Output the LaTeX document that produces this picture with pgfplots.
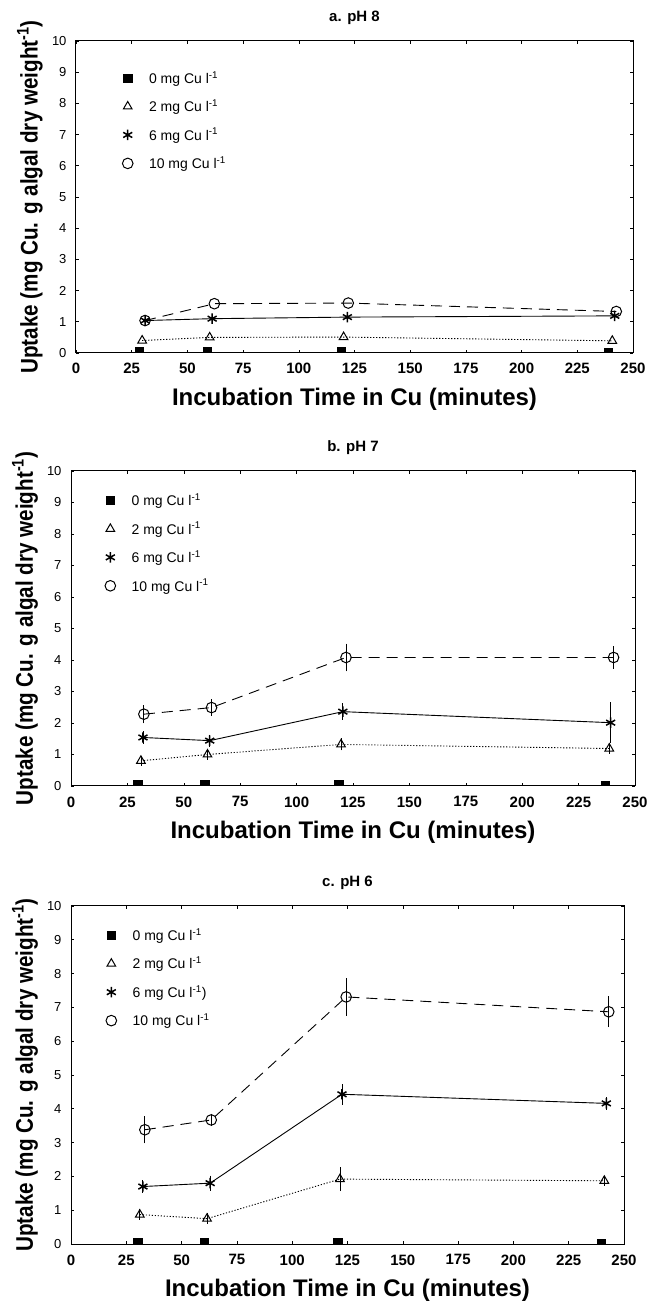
\documentclass[border=0pt]{standalone}
\usepackage{fontspec}
\setmainfont{Liberation Sans}
\usepackage{graphicx}
\usepackage{pgfplots}
\pgfplotsset{compat=1.18}

\pgfplotsset{
  cupanel/.style={
    scale only axis,
    xmin=0, xmax=250, ymin=0, ymax=10,
    xtick={0,25,...,250}, ytick={0,1,...,10},
    /pgf/number format/assume math mode=true,
    xticklabel style={font=\fontsize{15}{15}\selectfont\bfseries, yshift=-7pt},
    yticklabel style={font=\fontsize{13}{13}\selectfont, xshift=-6pt},
    tick align=inside, major tick length=3pt,
    axis line style={line width=1pt},
    every tick/.style={black, line width=0.6pt},
    xlabel={\fontsize{24}{24}\selectfont\bfseries Incubation Time in Cu (minutes)},
    xlabel style={at={(axis description cs:0.5,0)}, anchor=center, yshift=-46pt},
    ylabel={\scalebox{0.86}[1]{\fontsize{24}{24}\selectfont\bfseries Uptake (mg Cu. g algal dry weight\textsuperscript{-1})}},
    ylabel style={at={([xshift=-46pt]axis description cs:0,0.5)}, anchor=center},
    title style={at={(axis description cs:0.5,1)}, anchor=center, yshift=17pt,
                 font=\fontsize{15}{15}\selectfont\bfseries},
    clip marker paths=true,
    legend style={draw=none, fill=none, font=\fontsize{14}{16}\selectfont,
                  row sep=11pt, column sep=14pt, inner sep=0pt, anchor=north west},
    legend cell align=left,
    legend image code/.code={\draw[#1] plot coordinates {(0pt,0pt)};},
  },
  c0/.style={only marks, mark=square*, mark size=4.2pt, black},
  c2/.style={black, line width=0.9pt, dash pattern=on 1.2pt off 1.8pt,
             mark=triangle, mark size=5pt, mark options={solid, fill=white, line width=1pt}},
  c6/.style={black, line width=0.9pt, solid,
             mark=asterisk, mark size=5.2pt, mark options={solid, line width=1.5pt}},
  c10/.style={black, line width=0.9pt, dash pattern=on 11pt off 7pt,
              mark=o, mark size=5.3pt, mark options={solid, fill=white, line width=1pt}},
  errs/.style={error bars/.cd, y dir=both, y explicit,
               error bar style={solid, line width=0.8pt},
               error mark options={solid, line width=0.8pt, mark size=3.5pt}},
}

\newcommand{\culegend}[1]{%
  \addlegendimage{c0}\addlegendentry{0 mg Cu l\textsuperscript{-1}}
  \addlegendimage{c2, only marks}\addlegendentry{2 mg Cu l\textsuperscript{-1}}
  \addlegendimage{c6, only marks}\addlegendentry{#1}
  \addlegendimage{c10, only marks}\addlegendentry{10 mg Cu l\textsuperscript{-1}}
}

\begin{document}
\begin{tikzpicture}
\path[use as bounding box] (0,0) rectangle (650pt,1307pt);

% ---------------- a. pH 8 ----------------
\begin{axis}[cupanel, at={(76pt,954pt)}, anchor=south west,
  width=557pt, height=312pt, title={a. pH 8},
  legend style={at={(axis description cs:0.083,0.91)}}]
\culegend{6 mg Cu l\textsuperscript{-1}}
\addplot[c0, forget plot] coordinates {(28.4,0.05) (58.9,0.05) (119.0,0.05) (239.0,0.03)};
\addplot[c2, forget plot] coordinates {(29.7,0.40) (60.0,0.50) (120.1,0.51) (240.7,0.39)};
\addplot[c6, forget plot] coordinates {(31.0,1.04) (61.1,1.10) (121.8,1.15) (241.8,1.19)};
\addplot[c10, forget plot] coordinates {(31.0,1.04) (62.1,1.58) (122.2,1.60) (242.5,1.33)};
\end{axis}

% ---------------- b. pH 7 ----------------
\begin{axis}[cupanel, at={(71pt,521pt)}, anchor=south west,
  width=564pt, height=315pt, title={b. pH 7},
  legend style={at={(axis description cs:0.06,0.935)}}]
\culegend{6 mg Cu l\textsuperscript{-1}}
\addplot[c0, forget plot] coordinates {(29.5,0.05) (59.2,0.05) (118.6,0.04) (236.8,0.02)};
\addplot[c2, forget plot, errs] coordinates {
  (31.0,0.80) +- (0,0.05) (60.5,1.00) +- (0,0.05) (119.7,1.32) +- (0,0.08) (238.6,1.19) +- (0,0.06)};
\addplot[c6, forget plot, errs] coordinates {
  (31.9,1.54) +- (0,0.08) (61.5,1.44) +- (0,0.08) (120.5,2.36) +- (0,0.15) (239.2,2.01) +- (0,0.53)};
\addplot[c10, forget plot, errs] coordinates {
  (32.3,2.28) +- (0,0.18) (62.3,2.49) +- (0,0.15) (121.9,4.08) +- (0,0.33) (240.5,4.08) +- (0,0.24)};
\end{axis}

% ---------------- c. pH 6 ----------------
\begin{axis}[cupanel, at={(71pt,63pt)}, anchor=south west,
  width=553pt, height=338pt, title={c. pH 6},
  legend style={at={(axis description cs:0.063,0.94)}}]
\culegend{6 mg Cu l\textsuperscript{-1})}
\addplot[c0, forget plot] coordinates {(30.2,0.05) (60.2,0.05) (120.6,0.04) (239.8,0.03)};
\addplot[c2, forget plot, errs] coordinates {
  (31.1,0.87) +- (0,0.05) (61.5,0.75) +- (0,0.05) (121.6,1.92) +- (0,0.25) (241.1,1.87) +- (0,0.05)};
\addplot[c6, forget plot, errs] coordinates {
  (32.5,1.70) +- (0,0.08) (62.9,1.80) +- (0,0.12) (122.5,4.43) +- (0,0.20) (242.0,4.16) +- (0,0.08)};
\addplot[c10, forget plot, errs] coordinates {
  (33.4,3.38) +- (0,0.30) (63.4,3.67) +- (0,0.08) (124.4,7.31) +- (0,0.45) (243.1,6.87) +- (0,0.35)};
\end{axis}
\end{tikzpicture}
\end{document}
